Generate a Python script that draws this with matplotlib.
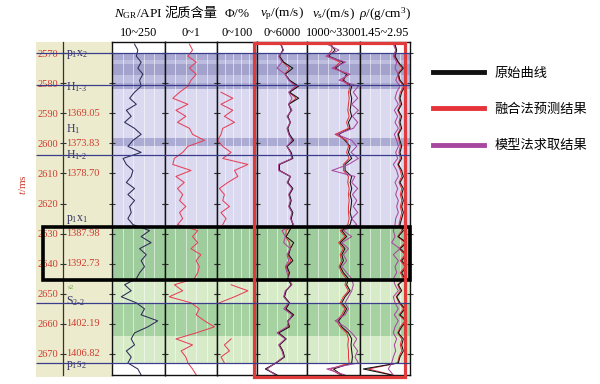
import numpy as np
import matplotlib
matplotlib.use("Agg")
import matplotlib.pyplot as plt
from matplotlib.patches import Rectangle
from matplotlib.lines import Line2D

plt.rcParams['font.family'] = ['Liberation Serif', 'Noto Sans CJK SC', 'DejaVu Sans']
plt.rcParams['mathtext.fontset'] = 'custom'
plt.rcParams['mathtext.rm'] = 'Liberation Serif'
plt.rcParams['mathtext.it'] = 'Liberation Serif:italic'
plt.rcParams['mathtext.bf'] = 'Liberation Serif:bold'

nan = np.nan

# ---- datos (t en ms) ----
depth = [2567, 2569, 2571, 2573, 2575, 2577, 2579, 2581, 2583, 2585,
         2587, 2589, 2591, 2593, 2595, 2597, 2599, 2601, 2603, 2605,
         2607, 2609, 2611, 2613, 2615, 2617, 2619, 2621, 2623, 2625,
         2627, 2629, 2631, 2633, 2635, 2637, 2639, 2641, 2643, 2645,
         2647, 2649, 2651, 2653, 2655, 2657, 2659, 2661, 2663, 2665,
         2667, 2669, 2671, 2673, 2675, 2677]

ngr = [112, 127, 120, 142, 127, 150, 135, 142, 112, 90,
       120, 75, 97, 67, 112, 142, 105, 82, 142, 60,
       75, 105, 97, 75, 112, 82, 112, 90, 97, 82,
       105, 180, 142, 187, 135, 165, 142, 157, 135, 120,
       67, 97, 52, 120, 157, 142, 217, 172, 112, 97,
       112, 75, 97, 82, 127, 142]

shale = [0.47, 0.53, 0.44, 0.60, 0.47, 0.60, 0.50, 0.44, 0.28, 0.15,
         0.44, 0.21, 0.40, 0.24, 0.47, 0.53, 0.76, 0.44, 0.34, 0.18,
         0.15, 0.50, 0.21, 0.37, 0.24, 0.34, 0.28, 0.40, 0.28, 0.34,
         0.24, 0.63, 0.53, 0.63, 0.50, 0.69, 0.60, 0.66, 0.63, 0.56,
         0.18, 0.34, 0.08, 0.50, 0.66, 0.60, 0.76, 0.95, 0.60, 0.21,
         0.53, 0.31, 0.40, 0.44, 0.53, 0.60]

phi = [nan, nan, nan, nan, nan, nan, nan, nan, 10, 39.5,
       10, 39.5, 18.5, 43.7, 14.3, 10, 1.7, 14.3, 35.3, 14.3,
       77.3, 43.7, 52.1, 26.9, 5.9, 18.5, 14.3, 31.1, 10, 22.7,
       14.3, nan, nan, nan, nan, nan, nan, nan, nan, nan,
       35.3, 77.3, 43.7, 5.9, nan, nan, nan, nan, nan, 35.3,
       18.5, 31.1, 10, 18.5, nan, nan]

vp_orig = [2900, 3100, 2700, 3200, 4300, 3400, 3900, 5000, 3900, 5000,
           3800, 4100, 3700, 4000, 3700, 3900, 4400, 3600, 4100, 4300,
           2700, 2700, 4000, 3700, 4300, 3900, 4100, 3900, 4300, 4100,
           4300, 3900, 3500, 4400, 4000, 3800, 4300, 3600, 3900, 3700,
           4100, 3500, 3300, 3900, 3500, 4400, 3700, 3900, 2600, 3500,
           2700, 3100, 3300, 2300, 1000, 2400]
vp_fuse = [2850, 3150, 2650, 3100, 3900, 3350, 3850, 4800, 3850, 4700,
           3800, 4150, 3650, 4000, 3650, 3850, 4300, 3600, 4050, 4250,
           2650, 2650, 4000, 3650, 4250, 3850, 4050, 3850, 4250, 4050,
           4350, 3500, 3450, 3900, 4000, 3700, 4050, 3500, 3750, 3750,
           4150, 3450, 3250, 3850, 3350, 4300, 3750, 3750, 2500, 3450,
           2650, 3050, 3250, 2250, 1100, 2300]
vp_model = [2800, 3200, 2600, 3000, 2400, 3400, 3800, 4600, 3800, 4200,
            3800, 4200, 3600, 4000, 3600, 3800, 4200, 3600, 4000, 4200,
            2600, 2600, 4000, 3600, 4200, 3800, 4000, 3800, 4200, 4000,
            4400, 3000, 3400, 3200, 4000, 3600, 3800, 3400, 3600, 3800,
            4200, 3400, 3200, 3800, 3200, 4200, 3800, 3600, 2400, 3400,
            2600, 3000, 3200, 2200, 1200, 2200]

vs_orig = [2010, 2220, 1930, 2580, 2220, 2720, 2580, 2940, 2870, 2940,
           2910, 2870, 2940, 2800, 2870, 2370, 2650, 2870, 2800, 2940,
           2650, 2650, 2940, 2870, 2940, 2870, 2940, 2910, 2870, 2940,
           2870, 2510, 2720, 2440, 2650, 2510, 2580, 2440, 2580, 2800,
           2720, 2870, 2650, 2510, 2720, 2580, 2370, 2510, 2800, 2940,
           2910, 2940, 2970, 2940, 2150, 2510]
vs_fuse = [2080, 2080, 1860, 2440, 2150, 2800, 2510, 2870, 2800, 2830,
           2800, 2770, 2830, 2720, 2800, 2220, 2720, 2800, 2720, 2830,
           2580, 2580, 2800, 2770, 2830, 2800, 2830, 2800, 2800, 2830,
           2770, 2440, 2650, 2370, 2580, 2440, 2510, 2390, 2510, 2720,
           2650, 2800, 2580, 2440, 2650, 2510, 2290, 2440, 2720, 2800,
           2770, 2800, 2800, 2830, 2010, 2440]
vs_model = [1860, 2390, 1820, 2680, 2080, 2870, 2390, 3230, 3010, 3200,
            2940, 3230, 2970, 3200, 3010, 2290, 2940, 3160, 2910, 3230,
            2800, 2080, 3080, 2940, 3200, 2970, 3160, 3010, 3200, 2940,
            3160, 2580, 2940, 2510, 2800, 2580, 2720, 2510, 2720, 2940,
            3010, 2940, 2800, 2650, 2800, 2650, 2220, 2650, 2940, 3160,
            3010, 3200, 3080, 3230, 1860, 2650]

rho_orig = [2.50, 2.55, 2.50, 2.60, 2.75, 2.60, 2.65, 2.80, 2.70, 2.65,
            2.70, 2.60, 2.70, 2.65, 2.70, 2.60, 2.65, 2.70, 2.65, 2.70,
            2.60, 2.70, 2.75, 2.65, 2.75, 2.70, 2.75, 2.70, 2.75, 2.70,
            2.65, 2.75, 2.60, 2.85, 2.65, 2.85, 2.70, 2.85, 2.70, 2.80,
            2.60, 2.70, 2.55, 2.65, 2.80, 2.65, 2.85, 2.70, 2.60, 2.75,
            2.70, 2.75, 2.65, 2.60, 1.55, 2.40]
rho_fuse = [2.48, 2.54, 2.48, 2.58, 2.70, 2.58, 2.62, 2.76, 2.66, 2.62,
            2.66, 2.58, 2.66, 2.62, 2.66, 2.58, 2.62, 2.66, 2.62, 2.66,
            2.58, 2.66, 2.70, 2.62, 2.70, 2.66, 2.70, 2.66, 2.70, 2.66,
            2.62, 2.70, 2.58, 2.80, 2.62, 2.80, 2.66, 2.80, 2.66, 2.76,
            2.58, 2.66, 2.54, 2.62, 2.76, 2.62, 2.80, 2.66, 2.58, 2.70,
            2.66, 2.70, 2.62, 2.58, 1.70, 2.42]
rho_model = [2.45, 2.52, 2.45, 2.55, 2.50, 2.60, 2.52, 2.65, 2.55, 2.50,
             2.60, 2.48, 2.58, 2.50, 2.60, 2.48, 2.55, 2.60, 2.52, 2.58,
             2.45, 2.55, 2.60, 2.50, 2.58, 2.52, 2.60, 2.55, 2.60, 2.52,
             2.50, 2.45, 2.50, 2.40, 2.65, 2.45, 2.60, 2.50, 2.55, 2.45,
             2.50, 2.60, 2.45, 2.50, 2.60, 2.48, 2.60, 2.50, 2.45, 2.55,
             2.48, 2.52, 2.45, 2.40, 2.30, 2.45]

track_titles = [r'$N_{\mathrm{GR}}$/API', '泥质含量', r'$\mathit{\Phi}$/%',
                r'$v_{\mathrm{p}}$/(m/s)', r'$v_{\mathrm{s}}$/(m/s)', r'$\rho$/(g/cm$^3$)']
track_ranges = ['10~250', '0~1', '0~100', '0~6000', '1000~3300', '1.45~2.95']
track_lims = [(10, 250), (0, 1), (0, 100), (0, 6000), (1000, 3300), (1.45, 2.95)]

time_ticks = [2570, 2580, 2590, 2600, 2610, 2620, 2630, 2640, 2650, 2660, 2670]
depth_ticks = [2590, 2600, 2610, 2630, 2640, 2660, 2670]
depth_labels = ['1369.05', '1373.83', '1378.70', '1387.98', '1392.73', '1402.19', '1406.82']

form_names = [r'p$_1$x$_2$', r'H$_{1\text{-}3}$', r'H$_1$', r'H$_{1\text{-}2}$',
              r'p$_1$x$_1$', r'S$_{2\text{-}2}$', r'p$_1$s$_2$']
form_label_t = [2570.6, 2581.2, 2595.4, 2603.8, 2625.3, 2652.4, 2673.8]
form_lines = [2570, 2580.6, 2603.9, 2653.2, 2673.1]

# zonas de color (tope, base, color)
zones = [(2570, 2627.7, '#dad9ef'),
         (2570, 2572.3, '#a9a9d1'), (2572.3, 2573.6, '#bdbde0'),
         (2573.6, 2577.3, '#a2a2cc'), (2577.3, 2580, '#bdbde0'),
         (2580, 2582, '#a9a9d1'), (2598.3, 2601, '#ababd3'),
         (2627.7, 2645.4, '#9fcc9c'), (2645.4, 2653.1, '#d8ebc9'),
         (2653.1, 2664.2, '#a6d2a2'), (2664.2, 2673.1, '#d8ebc9')]
box_top, box_bot = 2627.7, 2645.4

c_orig = '#111111'
c_fuse = '#e5333a'
c_model = '#a8479f'
c_red_txt = '#cf3b2c'
c_form = '#333366'

# ---- layout en pixeles ----
W, H = 600, 384
top_px, bot_px = 42, 375
edges = [112, 165, 217, 257, 307, 360, 410]
t_top, t_bot = 2566.3, 2677.0


def fx(px):
    return px / W


def fy(py):
    return 1 - py / H


fig = plt.figure(figsize=(6, 3.84), dpi=100)

# panel izquierdo (tiempo / profundidad)
axL = fig.add_axes([fx(36), fy(bot_px + 2), fx(112 - 36), (bot_px + 2 - top_px) / H])
axL.set_facecolor('#ecebcd')
axL.set_xticks([])
axL.set_yticks([])
for s in axL.spines.values():
    s.set_visible(False)

axD = fig.add_axes([fx(63), fy(bot_px), fx(112 - 63), (bot_px - top_px) / H])
axD.patch.set_alpha(0)
axD.set_xlim(0, 1)
axD.set_ylim(t_bot, t_top)
axD.set_xticks([])
axD.set_yticks(time_ticks)
axD.set_yticklabels([str(t) for t in time_ticks])
axD.tick_params(axis='y', direction='inout', length=5, pad=1, labelsize=7.5,
                labelcolor=c_red_txt, color='#333333', width=0.8)
for k, s in axD.spines.items():
    s.set_visible(k == 'left')
axD.spines['left'].set_color('#333333')
axD.spines['left'].set_linewidth(0.9)
for t, lab in zip(depth_ticks, depth_labels):
    axD.text(0.07, t, lab, color=c_red_txt, fontsize=7.5, va='center', ha='left')
for t, name in zip(form_label_t, form_names):
    axD.text(0.07, t, name, color=c_form, fontsize=8.5, va='center', ha='left')
axD.text(0.1, 2648.0, 's2', color='#66aa44', fontsize=5, va='center', ha='left')

# pistas
curves = [
    [(ngr, '#2b2b55')],
    [(shale, '#e6405a')],
    [(phi, '#e6405a')],
    [(vp_fuse, c_fuse), (vp_orig, c_orig), (vp_model, c_model)],
    [(vs_orig, c_orig), (vs_fuse, c_fuse), (vs_model, c_model)],
    [(rho_fuse, c_fuse), (rho_orig, c_orig), (rho_model, c_model)],
]
for i in range(6):
    x0, x1 = edges[i], edges[i + 1]
    ax = fig.add_axes([fx(x0), fy(bot_px), fx(x1 - x0), (bot_px - top_px) / H])
    lo, hi = track_lims[i]
    ax.set_xlim(lo, hi)
    ax.set_ylim(t_bot, t_top)
    for z0, z1, c in zones:
        ax.axhspan(z0, z1, color=c, lw=0, zorder=0.5)
    for k in range(1, 5):
        ax.axvline(lo + k * (hi - lo) / 5, color='white', lw=0.7, alpha=0.55, zorder=0.8)
    for vals, col in curves[i]:
        ax.plot(vals, depth, color=col, lw=0.75, zorder=2)
    ax.set_xticks([])
    ax.set_yticks(time_ticks)
    ax.tick_params(axis='y', direction='inout', length=5, left=True, right=True,
                   labelleft=False, color='#333333', width=0.8)
    for s in ax.spines.values():
        s.set_color('#111111')
        s.set_linewidth(1.0)
    cx = fx((x0 + x1) / 2)
    fig.text(cx, fy(14), track_titles[i], ha='center', va='center', fontsize=9.5)
    fig.text(cx, fy(33), track_ranges[i], ha='center', va='center', fontsize=8.8)

# capa superior: lineas de formacion y recuadros
ov = fig.add_axes([fx(36), fy(bot_px), fx(410 - 36), (bot_px - top_px) / H])
ov.patch.set_alpha(0)
ov.axis('off')
ov.set_xlim(36, 410)
ov.set_ylim(t_bot, t_top)
ov.hlines(form_lines, 36, 410, color='#3c3c8c', lw=0.9)
ov.add_patch(Rectangle((43, box_top), 410 - 43, box_bot - box_top, fill=False,
                       ec='#000000', lw=2.6, clip_on=False))
ov.add_patch(Rectangle((254, t_bot + 0.7), 405 - 254, (t_top + 0.3) - (t_bot + 0.7),
                       fill=False, ec='#e03a3a', lw=2.3, clip_on=False))

fig.text(fx(22), fy(185), r'$t$/ms', rotation=90, color=c_red_txt, fontsize=8,
         ha='center', va='center')

handles = [Line2D([], [], color=c_orig, lw=3.5),
           Line2D([], [], color=c_fuse, lw=3.5),
           Line2D([], [], color=c_model, lw=3.5)]
fig.legend(handles, ['原始曲线', '融合法预测结果', '模型法求取结果'],
           loc='upper left', bbox_to_anchor=(fx(433), fy(67)), frameon=False,
           borderpad=0, borderaxespad=0, handlelength=3.9, handletextpad=0.75,
           labelspacing=1.75, prop={'family': 'Noto Sans CJK SC', 'size': 9.5})

fig.savefig('out.png', dpi=100)
